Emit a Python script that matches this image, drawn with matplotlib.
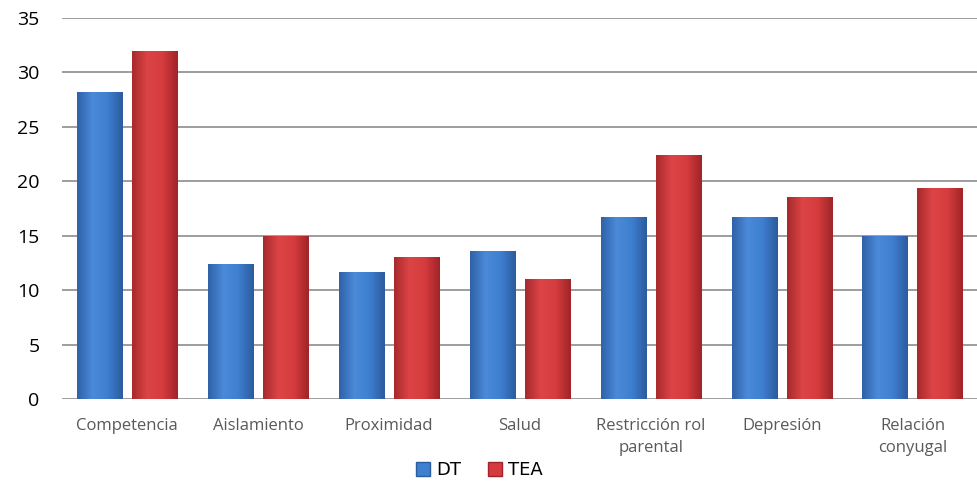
import matplotlib
matplotlib.use("Agg")
import matplotlib.pyplot as plt
import numpy as np
from matplotlib.patches import Patch
from matplotlib.colors import LinearSegmentedColormap

categories = ["Competencia", "Aislamiento", "Proximidad", "Salud",
              "Restricción rol\nparental", "Depresión", "Relación\nconyugal"]
dt = [28.2, 12.4, 11.7, 13.6, 16.7, 16.7, 15.0]
tea = [32.0, 15.0, 13.0, 11.0, 22.4, 18.6, 19.4]
yticks = [0, 5, 10, 15, 20, 25, 30, 35]

plt.rcParams['font.family'] = ['Open Sans', 'DejaVu Sans']

fig = plt.figure(figsize=(9.78, 4.86), dpi=100)
ax = fig.add_axes([0.063, 0.179, 0.937, 0.784])

x = np.arange(len(categories))
w = 0.345
off = 0.21
blue = "#3E7FD0"
red = "#D63C3E"
cmap_b = LinearSegmentedColormap.from_list("b", ["#2F62A8", "#4A8AD8", "#3E7FD0", "#2C5C9E"])
cmap_r = LinearSegmentedColormap.from_list("r", ["#A82A2C", "#DC4446", "#D63C3E", "#A02528"])
grad = np.linspace(0, 1, 64).reshape(1, -1)

ax.set_xlim(-0.5, len(categories) - 0.5)
ax.set_ylim(0, 35)

bars_b = ax.bar(x - off, dt, w, color=blue, edgecolor="none", linewidth=0, zorder=3)
bars_r = ax.bar(x + off, tea, w, color=red, edgecolor="none", linewidth=0, zorder=3)
for bars, cm in ((bars_b, cmap_b), (bars_r, cmap_r)):
    for b in bars:
        x0, y0 = b.get_x(), b.get_y()
        bw, bh = b.get_width(), b.get_height()
        im = ax.imshow(grad, cmap=cm, aspect='auto', extent=(x0, x0 + bw, y0, y0 + bh),
                       zorder=4, interpolation='bicubic')
        im.set_clip_path(b)

ax.set_xlim(-0.5, len(categories) - 0.5)
ax.set_ylim(0, 35)
ax.set_yticks(yticks)
ax.tick_params(axis='y', labelsize=14, length=0, pad=16, labelcolor="#000000")
ax.set_xticks(x)
ax.set_xticklabels(categories, fontsize=12, color="#595959", linespacing=1.45)
ax.tick_params(axis='x', length=0, pad=14)
ax.grid(axis='y', color="#8C8C8C", linewidth=1.2, zorder=0)
for s in ax.spines.values():
    s.set_visible(False)

handles = [Patch(facecolor=blue, edgecolor="#2A5C9E", label="DT"),
           Patch(facecolor=red, edgecolor="#A02528", label="TEA")]
fig.legend(handles=handles, loc="center", bbox_to_anchor=(0.49, 0.033), ncol=2,
           frameon=False, handlelength=0.8, handleheight=0.8,
           handletextpad=0.3, columnspacing=1.5,
           prop={'family': ['DejaVu Sans'], 'size': 13})

fig.savefig("out.png", dpi=100)
